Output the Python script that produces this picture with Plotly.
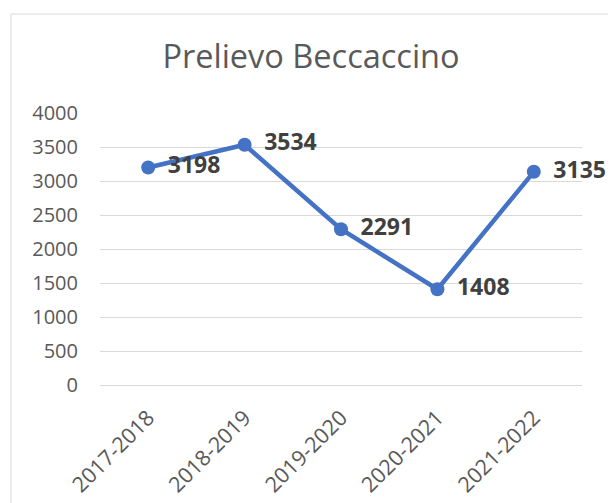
import plotly.graph_objects as go

seasons = ["2017-2018", "2018-2019", "2019-2020", "2020-2021", "2021-2022"]
prelievo = [3198, 3534, 2291, 1408, 3135]
y_ticks = [0, 500, 1000, 1500, 2000, 2500, 3000, 3500, 4000]

FONT = "Open Sans, Liberation Sans, sans-serif"

fig = go.Figure()
fig.add_trace(go.Scatter(
    x=seasons, y=prelievo,
    mode="lines+markers+text",
    line=dict(color="#4472C4", width=4.5),
    marker=dict(color="#4472C4", size=14),
    text=[f"&nbsp;&#8201;<b>{v}</b>" for v in prelievo],
    textposition="middle right",
    textfont=dict(family=FONT, size=23, color="#404040"),
    cliponaxis=False,
    hoverinfo="x+y",
))

# page body has an 8px margin, so figure coords = screen coords - 8
W, H = 616, 503
L, R, T, B = 92, 42, 105, 126
pw, ph = W - L - R, H - T - B

fig.update_layout(
    width=W, height=H,
    margin=dict(l=L, r=R, t=T, b=B),
    paper_bgcolor="white", plot_bgcolor="white",
    showlegend=False,
    title=dict(text="Prelievo Beccaccino", x=(303 - L) / pw, xref="paper", xanchor="center",
               y=(H - 49) / H, yanchor="middle",
               font=dict(family=FONT, size=32.5, color="#595959")),
    font=dict(family=FONT, color="#595959"),
    shapes=[dict(type="rect", xref="paper", yref="paper",
                 x0=(3 - L) / pw, x1=(603 - L) / pw,
                 y0=(H - B - 530) / ph, y1=(H - B - 6) / ph,
                 line=dict(color="#D9D9D9", width=1), fillcolor="rgba(0,0,0,0)", layer="below")],
)
fig.update_xaxes(
    type="category", range=[-0.5, 4.5],
    showgrid=False, showline=False, zeroline=False,
    tickangle=-45, tickfont=dict(family=FONT, size=21.5, color="#595959"),
    ticks="", ticklabelstandoff=15,
)
fig.update_yaxes(
    range=[0, 4000], tickvals=y_ticks,
    showgrid=True, gridcolor="#D9D9D9", gridwidth=1.3,
    zeroline=True, zerolinecolor="#D9D9D9", zerolinewidth=1.3,
    showline=False, ticks="", ticklabelstandoff=21,
    tickfont=dict(family=FONT, size=20, color="#595959"),
)

fig.write_html("out.html")
